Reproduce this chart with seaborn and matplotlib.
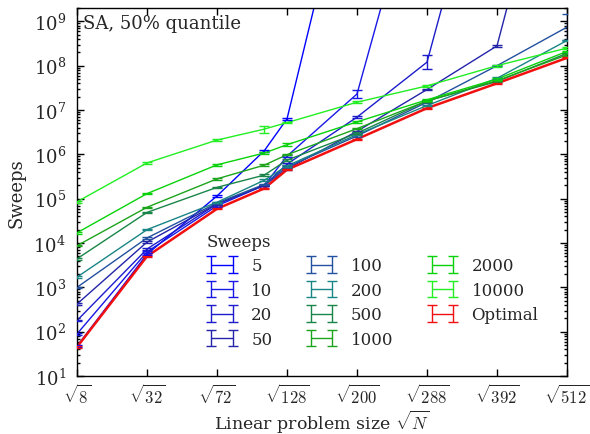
import numpy as np
import pandas as pd
import matplotlib
matplotlib.use("Agg")
import matplotlib.pyplot as plt
import seaborn as sns

nan = np.nan

# problem sizes N (x axis is sqrt(N))
N = [8, 32, 72, 108, 128, 200, 288, 392, 512]
tick_N = [8, 32, 72, 128, 200, 288, 392, 512]

series_names = ["5", "10", "20", "50", "100", "200", "500", "1000", "2000", "10000", "Optimal"]

sw_5 = [47, 5.6e3, 1.15e5, 1.2e6, 6.3e6, 2e13, nan, nan, nan]
sw_10 = [89, 6.3e3, 6.9e4, 2.0e5, 9.1e5, 2.3e7, 1.1e13, nan, nan]
sw_20 = [178, 7.3e3, 7.6e4, 2.0e5, 6.0e5, 6.9e6, 1.2e8, 8e13, nan]
sw_50 = [420, 1.05e4, 7.6e4, 2.0e5, 4.7e5, 3.3e6, 2.9e7, 2.8e8, 2.8e14]
sw_100 = [1.0e3, 1.3e4, 8.0e4, 2.1e5, 5.2e5, 2.6e6, 1.5e7, 1.0e8, 7.4e8]
sw_200 = [1.7e3, 2.0e4, 8.3e4, 2.6e5, 5.5e5, 2.8e6, 1.26e7, 5.2e7, 3.7e8]
sw_500 = [4.4e3, 4.9e4, 1.8e5, 3.4e5, 7.4e5, 3.0e6, 1.6e7, 4.4e7, 1.9e8]
sw_1000 = [8.7e3, 6.4e4, 2.8e5, 5.7e5, 9.8e5, 3.8e6, 1.6e7, 4.6e7, 1.75e8]
sw_2000 = [1.7e4, 1.3e5, 5.8e5, 1.07e6, 1.65e6, 5.4e6, 1.7e7, 5.0e7, 2.1e8]
sw_10000 = [8.5e4, 6.4e5, 2.1e6, 3.7e6, 5.2e6, 1.5e7, 3.5e7, 1.0e8, 2.5e8]
sw_opt = [45, 5.0e3, 5.9e4, 1.7e5, 4.5e5, 2.2e6, 1.1e7, 4.0e7, 1.5e8]

# multiplicative error factors (log-symmetric error bars)
err_5 = [1.04, 1.04, 1.04, 1.06, 1.05, 1.05, 1.05, 1.05, 1.05]
err_10 = [1.04, 1.04, 1.04, 1.04, 1.06, 1.22, 1.05, 1.05, 1.05]
err_20 = [1.04, 1.04, 1.04, 1.04, 1.04, 1.05, 1.42, 1.05, 1.05]
err_50 = [1.04, 1.04, 1.04, 1.04, 1.04, 1.04, 1.04, 1.05, 1.05]
err_100 = [1.04, 1.04, 1.04, 1.04, 1.04, 1.04, 1.04, 1.04, 1.97]
err_200 = [1.04, 1.04, 1.04, 1.06, 1.04, 1.04, 1.04, 1.05, 1.04]
err_500 = [1.04, 1.04, 1.04, 1.04, 1.04, 1.04, 1.04, 1.04, 1.04]
err_1000 = [1.04, 1.04, 1.04, 1.04, 1.04, 1.04, 1.04, 1.04, 1.04]
err_2000 = [1.04, 1.04, 1.04, 1.04, 1.08, 1.04, 1.04, 1.04, 1.04]
err_10000 = [1.04, 1.04, 1.04, 1.20, 1.04, 1.04, 1.04, 1.05, 1.04]
err_opt = [1.03, 1.03, 1.03, 1.03, 1.03, 1.03, 1.03, 1.03, 1.03]

colors = ["#0000ff", "#1818e6", "#1c1ccc", "#2424aa", "#23509f",
          "#1a8585", "#1a8548", "#1ca41c", "#0ad20a", "#22ee22", "#f01010"]

values = [sw_5, sw_10, sw_20, sw_50, sw_100, sw_200, sw_500, sw_1000, sw_2000, sw_10000, sw_opt]
errors = [err_5, err_10, err_20, err_50, err_100, err_200, err_500, err_1000, err_2000, err_10000, err_opt]

sns.set_style("ticks")
plt.rcParams["font.family"] = ["DejaVu Serif"]
plt.rcParams["mathtext.fontset"] = "cm"

fig = plt.figure(figsize=(5.9, 4.35), dpi=100)
ax = fig.add_axes([77 / 590, (435 - 377) / 435, 490 / 590, 368 / 435])

x = np.sqrt(np.array(N, dtype=float))
rows = []
for name, vals in zip(series_names, values):
    for xi, v in zip(x, vals):
        rows.append({"x": xi, "Sweeps": v, "series": name})
df = pd.DataFrame(rows)

palette = dict(zip(series_names, colors))
sizes = {n: (1.8 if n == "Optimal" else 1.0) for n in series_names}
sns.lineplot(data=df, x="x", y="Sweeps", hue="series", palette=palette,
             size="series", sizes=sizes, legend=False, ax=ax,
             estimator=None, sort=True)

handles = []
for name, vals, errs, c in zip(series_names, values, errors, colors):
    v = np.array(vals, dtype=float)
    f = np.array(errs, dtype=float)
    lo = v - v / f
    hi = v * f - v
    ax.errorbar(x, v, yerr=[lo, hi], fmt="none", ecolor=c, elinewidth=1.0,
                capsize=3.5, capthick=1.0, zorder=3)
    h = ax.errorbar([-10, -9], [1e3, 1e3], yerr=[[10, 10], [10, 10]], fmt="-",
                    color=c, lw=1.0, elinewidth=1.0, capsize=3.5, capthick=1.0,
                    label=name)
    handles.append(h)

ax.set_yscale("log")
ax.set_ylim(10, 2e9)
ax.set_xlim(np.sqrt(8), np.sqrt(512))
ax.set_xticks(np.sqrt(np.array(tick_N, dtype=float)))
ax.set_xticklabels([r"$\sqrt{%d}$" % n for n in tick_N])
ax.minorticks_off()
ax.yaxis.set_minor_locator(matplotlib.ticker.LogLocator(base=10, subs=np.arange(2, 10), numticks=20))
ax.yaxis.set_major_locator(matplotlib.ticker.LogLocator(base=10, numticks=20))

ax.tick_params(which="both", direction="in", top=True, right=True, width=1.0, color="black")
ax.tick_params(which="major", length=5)
ax.tick_params(which="minor", length=2.5)
ax.tick_params(axis="y", labelsize=13, pad=8)
ax.tick_params(axis="x", labelsize=12, pad=6)
for s in ax.spines.values():
    s.set_linewidth(1.0)
    s.set_color("black")

ax.set_xlabel(r"Linear problem size $\sqrt{N}$", fontsize=12.5)
ax.xaxis.set_label_coords(0.5, -0.086)
ax.set_ylabel("Sweeps", fontsize=13)
ax.yaxis.set_label_coords(-0.105, 0.5)
ax.text(0.012, 0.985, "SA, 50% quantile", transform=ax.transAxes, ha="left", va="top", fontsize=13)

leg = ax.legend(handles=handles, labels=series_names, title="Sweeps", ncol=3,
                loc="upper left", bbox_to_anchor=(0.25, 0.407), borderaxespad=0,
                frameon=False, numpoints=2, handlelength=1.9, handletextpad=0.8,
                columnspacing=2.0, labelspacing=0.45, fontsize=12, title_fontsize=12,
                alignment="left")

fig.savefig("out.png", dpi=100)
